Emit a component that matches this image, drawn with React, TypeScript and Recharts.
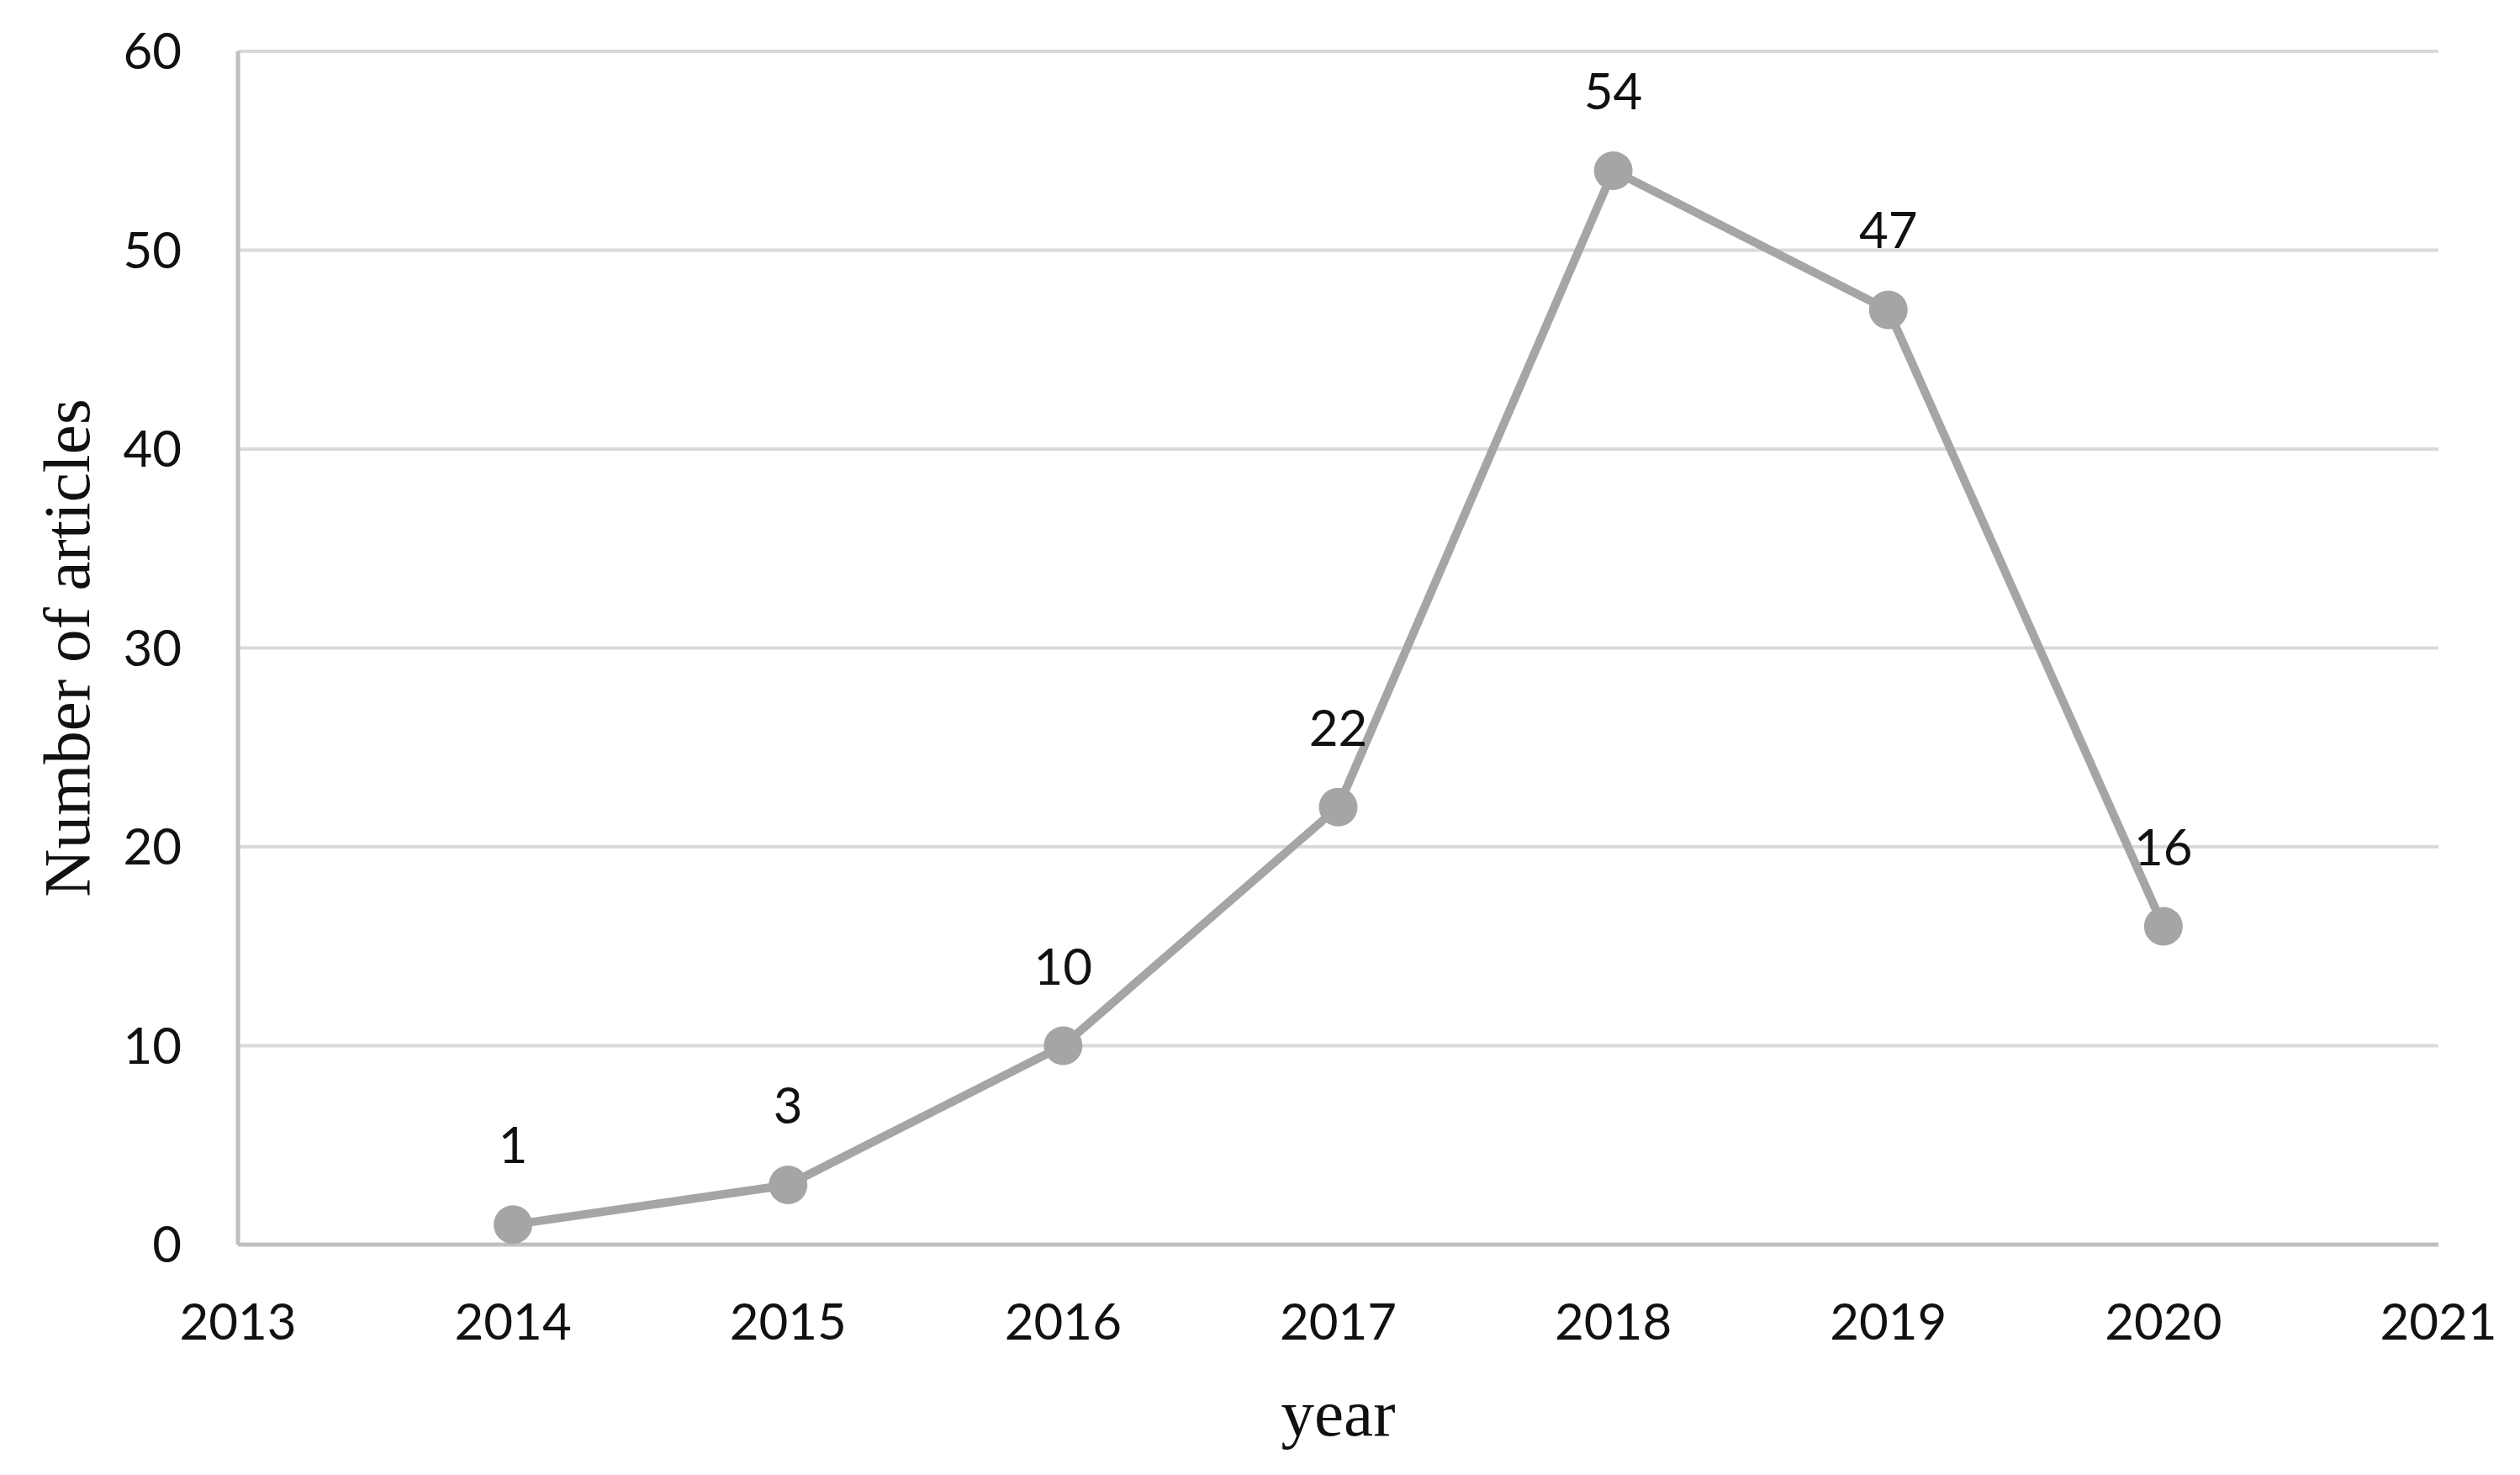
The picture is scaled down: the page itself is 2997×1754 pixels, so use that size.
import { CartesianGrid, LabelList, Line, LineChart, XAxis, YAxis, Label } from "recharts";

// articles per year
const years = [2014, 2015, 2016, 2017, 2018, 2019, 2020];
const articles = [1, 3, 10, 22, 54, 47, 16];
const xTicks = [2013, 2014, 2015, 2016, 2017, 2018, 2019, 2020, 2021];
const yTicks = [0, 10, 20, 30, 40, 50, 60];

const data = years.map((year, i) => ({ year, value: articles[i] }));

const GREY = "#A5A5A5";
const TICK_FONT = "Lato, 'Open Sans', sans-serif";
const TITLE_FONT = "'Liberation Serif', 'DejaVu Serif', serif";

export default function App() {
  return (
    <div style={{ position: "absolute", left: 0, top: 0, background: "#fff" }}>
      <LineChart
        width={2997}
        height={1754}
        data={data}
        margin={{ top: 61, right: 97, left: 0, bottom: 0 }}
      >
        <CartesianGrid horizontal vertical={false} stroke="#D9D9D9" strokeWidth={4} />
        <XAxis
          dataKey="year"
          type="number"
          domain={[2013, 2021]}
          ticks={xTicks}
          height={274}
          tickSize={0}
          tickMargin={70}
          axisLine={{ stroke: "#BFBFBF", strokeWidth: 5 }}
          tick={{ fill: "#111", fontSize: 60, fontFamily: TICK_FONT }}
        >
          <Label
            value="year"
            position="insideBottom"
            offset={47}
            style={{ fill: "#111", fontSize: 79, fontFamily: TITLE_FONT }}
          />
        </XAxis>
        <YAxis
          domain={[0, 60]}
          ticks={yTicks}
          width={283}
          tickSize={0}
          tickMargin={67}
          axisLine={{ stroke: "#BFBFBF", strokeWidth: 5 }}
          tick={{ fill: "#111", fontSize: 60, fontFamily: TICK_FONT }}
        >
          <Label
            content={({ viewBox }: any) => {
              const cy = viewBox.y + viewBox.height / 2;
              const x = 106;
              return (
                <text
                  x={x}
                  y={cy}
                  transform={`rotate(-90, ${x}, ${cy})`}
                  textAnchor="middle"
                  fill="#111"
                  fontSize={79}
                  fontFamily={TITLE_FONT}
                >
                  Number of articles
                </text>
              );
            }}
          />
        </YAxis>
        <Line
          dataKey="value"
          stroke={GREY}
          strokeWidth={10}
          dot={{ r: 23, fill: GREY, stroke: GREY, strokeWidth: 0 }}
          activeDot={false}
          isAnimationActive={false}
        >
          <LabelList
            dataKey="value"
            position="top"
            offset={73}
            style={{ fill: "#111", fontSize: 60, fontFamily: TICK_FONT }}
          />
        </Line>
      </LineChart>
    </div>
  );
}
